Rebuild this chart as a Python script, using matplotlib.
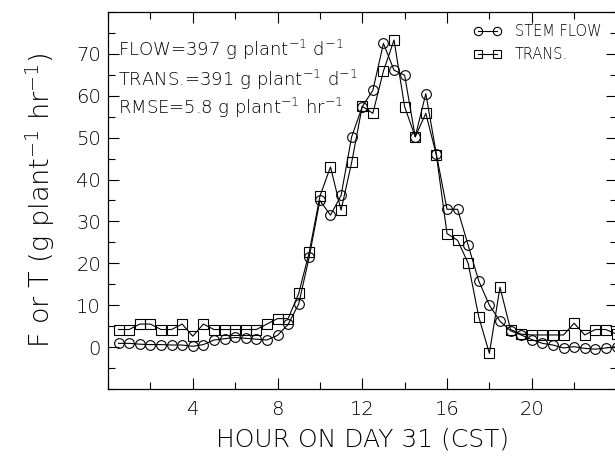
import numpy as np
from matplotlib import pyplot as plt
from matplotlib.ticker import MultipleLocator
from matplotlib.lines import Line2D

# half-hourly readings, day 31
hours = np.arange(0.5, 24.01, 0.5)

stem_flow = [0.9, 0.9, 0.7, 0.6, 0.6, 0.5, 0.5, 0.2, 0.6, 1.7,
             2.0, 2.3, 2.1, 1.9, 1.7, 2.8, 5.4, 10.3, 21.6, 35.0,
             31.5, 36.2, 50.2, 57.4, 61.3, 72.5, 66.1, 64.9, 50.2, 60.5,
             46.0, 32.9, 32.9, 24.3, 15.8, 10.0, 6.2, 3.9, 2.9, 1.8,
             0.9, 0.5, -0.2, 0.1, -0.3, -0.5, -0.2, 0.1]

trans = [4.2, 4.2, 5.5, 5.5, 4.2, 4.2, 5.5, 2.6, 5.5, 4.2,
         4.2, 4.2, 4.2, 4.2, 5.5, 6.8, 6.8, 12.8, 22.7, 36.0,
         43.0, 32.7, 44.1, 57.5, 55.8, 65.9, 73.3, 57.4, 50.2, 55.8,
         45.8, 27.1, 25.5, 20.0, 7.2, -1.5, 14.3, 4.2, 3.1, 2.9,
         2.9, 2.9, 2.9, 5.7, 2.9, 4.2, 4.2, 3.1]

notes = ["FLOW=397 g plant$^{-1}$ d$^{-1}$",
         "TRANS.=391 g plant$^{-1}$ d$^{-1}$",
         "RMSE=5.8 g plant$^{-1}$ hr$^{-1}$"]

plt.rcParams["font.weight"] = "light"
plt.rcParams["axes.labelweight"] = "light"
ink = "black"
fig = plt.figure(figsize=(6.15, 4.59), dpi=100)
ax = fig.add_axes([108 / 615, 70 / 459, 508.5 / 615, 377 / 459])

ax.plot(hours, stem_flow, color=ink, lw=0.8, marker="o", ms=7,
        mfc="none", mec=ink, mew=0.8)
ax.plot(hours, trans, color=ink, lw=0.8, marker="s", ms=7,
        mfc="none", mec=ink, mew=0.8)

ax.set_xlim(0, 24)
ax.set_ylim(-10, 80)
ax.set_xticks([4, 8, 12, 16, 20])
ax.xaxis.set_minor_locator(MultipleLocator(2))
ax.set_yticks(range(0, 71, 10))
ax.yaxis.set_minor_locator(MultipleLocator(5))
ax.tick_params(which="both", direction="in", top=True, right=True,
               colors=ink, width=0.8)
ax.tick_params(which="major", length=8, labelsize=14)
ax.tick_params(which="minor", length=5)
ax.tick_params(axis="x", pad=8)
ax.tick_params(axis="y", pad=5)
for s in ax.spines.values():
    s.set_color(ink)
    s.set_linewidth(0.9)

ax.set_xlabel("HOUR ON DAY 31 (CST)", fontsize=18, color=ink, labelpad=6)
ax.set_ylabel("F or T (g plant$^{-1}$ hr$^{-1}$)", fontsize=19.5, color=ink,
              labelpad=14)

for i, t in enumerate(notes):
    ax.text(0.02, [0.899, 0.82, 0.745][i], t, transform=ax.transAxes,
            fontsize=13, color=ink, va="center", ha="left")

handles = [Line2D([], [], color=ink, lw=0.8, marker="o", ms=6, mfc="none", mew=0.8),
           Line2D([], [], color=ink, lw=0.8, marker="s", ms=6, mfc="none", mew=0.8)]
ax.legend(handles, ["STEM FLOW", "TRANS."], loc="upper left",
          bbox_to_anchor=(0.72, 0.968), frameon=False, fontsize=10.5,
          numpoints=2, handlelength=1.9, handletextpad=0.9,
          borderpad=0, borderaxespad=0, labelspacing=0.55,
          labelcolor=ink)

plt.savefig("out.png", dpi=100)
